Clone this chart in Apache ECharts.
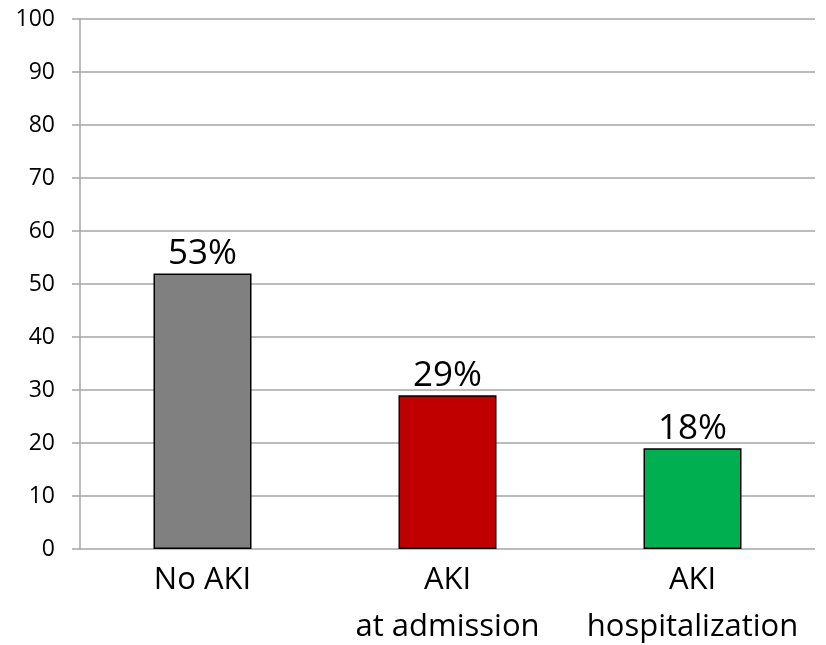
<!DOCTYPE html>
<html>
<head>
<meta charset="utf-8">
<script src="https://cdn.jsdelivr.net/npm/echarts@6/dist/echarts.min.js"></script>
<style>
  html, body { margin: 0; padding: 0; background: #fff; }
  #chart { width: 826px; height: 645px; }
</style>
</head>
<body>
<div id="chart"></div>
<script>
// data
const categories = ["No AKI", "AKI\nat admission", "AKI\nhospitalization"];
const values = [52, 29, 19];
const percentLabels = ["53%", "29%", "18%"];
const barColors = ["#808080", "#C00000", "#00B050"];

const chart = echarts.init(document.getElementById("chart"));
const font = "'Open Sans', 'Noto Sans', sans-serif";

chart.setOption({
  animation: false,
  grid: { left: 80, right: 11, top: 19, bottom: 96, outerBoundsMode: "none" },
  xAxis: {
    type: "category",
    data: categories,
    axisLine: { show: false },
    axisTick: { show: false },
    axisLabel: {
      interval: 0,
      hideOverlap: false,
      color: "#000",
      fontFamily: font,
      fontSize: 31,
      lineHeight: 47,
      margin: 8,
    },
  },
  yAxis: {
    type: "value",
    min: 0,
    max: 100,
    interval: 10,
    axisLine: { show: true, lineStyle: { color: "#a6a6a6", width: 1.5 } },
    axisTick: { show: true, inside: false, length: 8, lineStyle: { color: "#a6a6a6", width: 1.5 } },
    splitLine: { lineStyle: { color: "#a6a6a6", width: 1.5 } },
    axisLabel: { color: "#000", fontFamily: font, fontSize: 23, margin: 25 },
  },
  series: [
    {
      type: "bar",
      barWidth: "40%",
      data: values.map((v, i) => ({
        value: v,
        itemStyle: { color: barColors[i] },
      })),
      itemStyle: { borderColor: "#000", borderWidth: 1.5 },
      label: {
        show: true,
        position: "top",
        distance: 2,
        color: "#000",
        fontFamily: font,
        fontSize: 35,
        formatter: (p) => percentLabels[p.dataIndex],
      },
    },
  ],
});
</script>
</body>
</html>
